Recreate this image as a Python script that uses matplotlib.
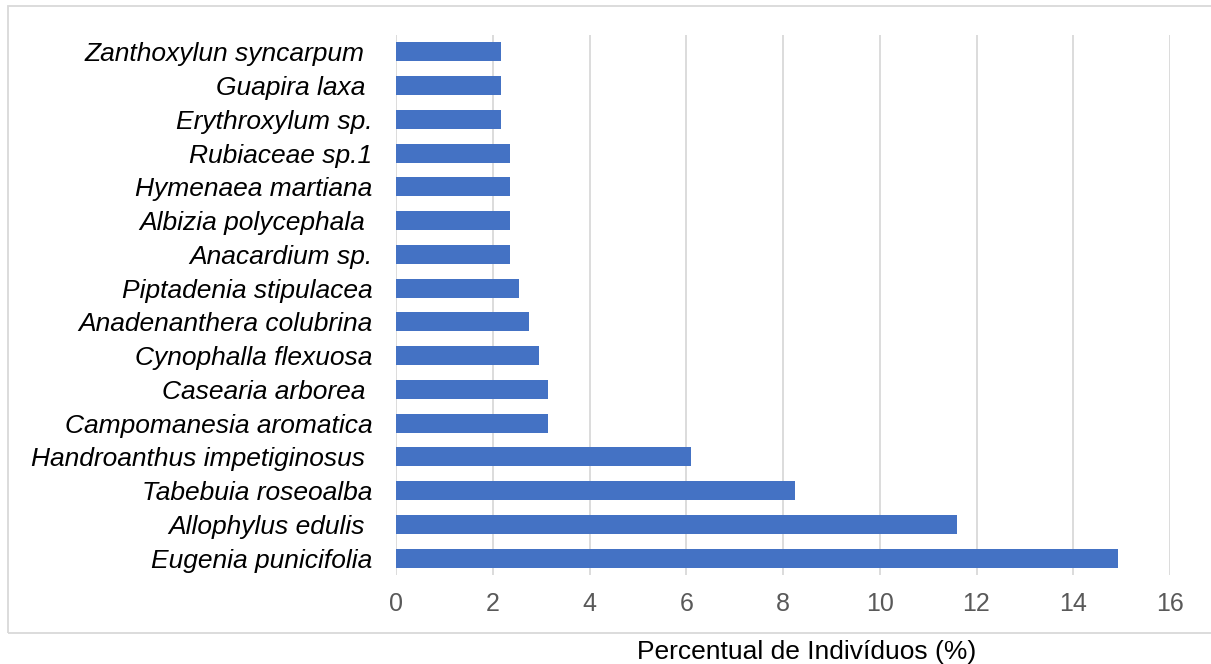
import matplotlib.pyplot as plt
from matplotlib.patches import Rectangle

plt.rcParams['font.family'] = ['Liberation Sans', 'DejaVu Sans']

species = [
    'Eugenia punicifolia', 'Allophylus edulis ', 'Tabebuia roseoalba',
    'Handroanthus impetiginosus ', 'Campomanesia aromatica', 'Casearia arborea ',
    'Cynophalla flexuosa', 'Anadenanthera colubrina', 'Piptadenia stipulacea',
    'Anacardium sp.', 'Albizia polycephala ', 'Hymenaea martiana',
    'Rubiaceae sp.1', 'Erythroxylum sp.', 'Guapira laxa ', 'Zanthoxylun syncarpum ',
]
percent = [14.93, 11.6, 8.25, 6.09, 3.15, 3.15, 2.95, 2.75, 2.55,
           2.36, 2.36, 2.36, 2.36, 2.17, 2.17, 2.17]
xticks = [0, 2, 4, 6, 8, 10, 12, 14, 16]

fig = plt.figure(figsize=(12.11, 6.64), dpi=100)
ax = fig.add_axes([396 / 1211, 1 - 575 / 664, 774 / 1211, 540 / 664])

ax.barh(range(len(species)), percent, height=0.56, color='#4472C4', zorder=3)
ax.set_ylim(-0.5, len(species) - 0.5)
ax.set_xlim(0, 16)
ax.set_xticks(xticks)
ax.set_xticklabels([str(t) for t in xticks])
ax.set_yticks(range(len(species)))
ax.set_yticklabels(species, fontstyle='italic', fontsize=19, color='black')
ax.tick_params(axis='x', length=0, labelsize=18, labelcolor='#595959', pad=12)
ax.tick_params(axis='y', length=0, pad=17)
ax.grid(axis='x', color='#D9D9D9', linewidth=1.3, zorder=0)
for s in ax.spines.values():
    s.set_visible(False)

fig.text(807 / 1211, 1 - 652 / 664, 'Percentual de Indivíduos (%)',
         ha='center', va='center', fontsize=19, color='black')

# light border around the chart area
fig.patches.append(Rectangle((8 / 1211, 1 - 633 / 664), 1210 / 1211, 627 / 664,
                             transform=fig.transFigure, fill=False,
                             edgecolor='#D9D9D9', linewidth=1.3))

fig.savefig('out.png', dpi=100)
